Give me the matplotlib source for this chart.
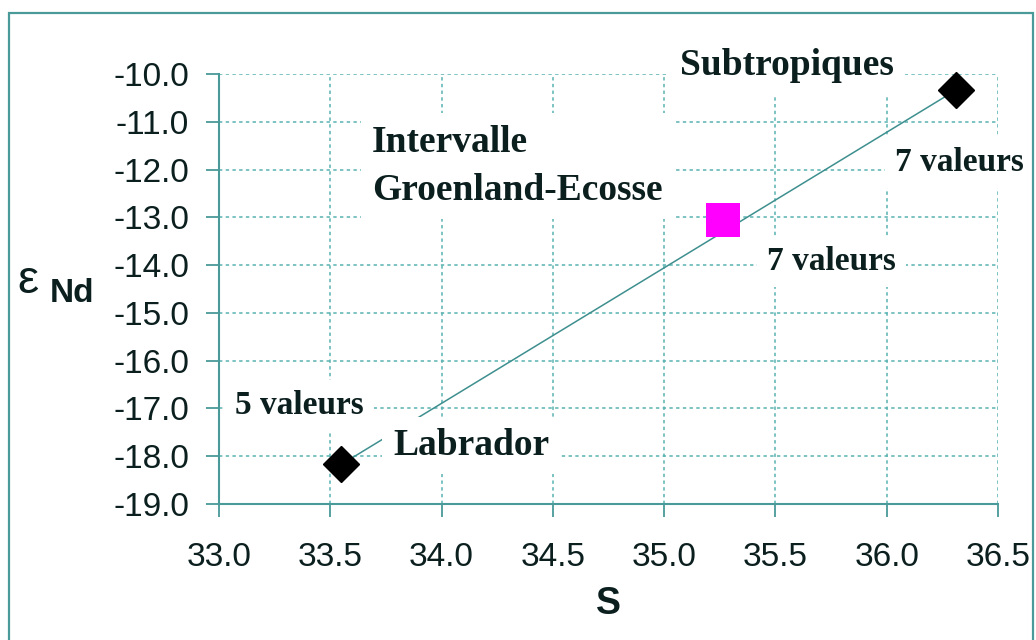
import matplotlib
matplotlib.use("Agg")
import matplotlib.pyplot as plt
from matplotlib.patches import Rectangle

# Salinity / epsilon-Nd end members and intermediate water mass
salinity = [33.55, 36.31]
eps_nd = [-18.17, -10.34]
mid_salinity = [35.265]
mid_eps_nd = [-13.06]

x_ticks = [33.0, 33.5, 34.0, 34.5, 35.0, 35.5, 36.0, 36.5]
y_ticks = [-10.0, -11.0, -12.0, -13.0, -14.0, -15.0, -16.0, -17.0, -18.0, -19.0]

# (text, x, y, fontsize) -- left edge / last-line baseline in data units
labels = [
    ("Subtropiques", 35.071, -10.02, 27),
    ("7 valeurs", 36.037, -12.03, 24),
    ("Intervalle\nGroenland-Ecosse", 33.687, -12.64, 27),
    ("7 valeurs", 35.462, -14.10, 24),
    ("5 valeurs", 33.072, -17.12, 24),
    ("Labrador", 33.782, -17.97, 27),
]

AXIS_COL = "#4a9a9a"
GRID_COL = "#58b2b2"
LINE_COL = "#3f8f8f"
TEXT_COL = "#0c1f1f"

fig = plt.figure(figsize=(10.36, 6.4), dpi=100)
fig.patch.set_facecolor("white")

# outer chart frame
fig.patches.append(Rectangle((9 / 1036, -0.05), (1033 - 9) / 1036, 1.05 - 13 / 640,
                             transform=fig.transFigure, fill=False,
                             edgecolor=AXIS_COL, linewidth=1.6, clip_on=False))

ax = fig.add_axes([219 / 1036, 1 - 504 / 640, (998 - 219) / 1036, (504 - 74) / 640])
ax.set_xlim(33.0, 36.5)
ax.set_ylim(-19.0, -10.0)
ax.set_xticks(x_ticks)
ax.set_yticks(y_ticks)
ax.set_xticklabels([f"{v:.1f}" for v in x_ticks])
ax.set_yticklabels([f"{v:.1f}" for v in y_ticks])

for s in ("top", "right"):
    ax.spines[s].set_visible(False)
for s in ("left", "bottom"):
    ax.spines[s].set_color(AXIS_COL)
    ax.spines[s].set_linewidth(1.5)

ax.tick_params(axis="both", direction="out", length=9.5, width=1.3, color=AXIS_COL,
               labelsize=24, labelcolor=TEXT_COL)
ax.tick_params(axis="x", pad=17.5)
ax.tick_params(axis="y", pad=12)
for lab in ax.get_xticklabels() + ax.get_yticklabels():
    lab.set_fontfamily("Liberation Sans")

ax.grid(True, color=GRID_COL, linestyle=(0, (2.2, 2.2)), linewidth=1.1, zorder=0)
ax.set_axisbelow(True)

ax.plot(salinity, eps_nd, color=LINE_COL, linewidth=1.1, zorder=2)
ax.plot(salinity, eps_nd, linestyle="none", marker="D", markersize=18.5,
        color="black", zorder=5, clip_on=False)
ax.plot(mid_salinity, mid_eps_nd, linestyle="none", marker="s", markersize=25,
        color="#ff00ff", markeredgewidth=0, zorder=5)

for text, x, y, size in labels:
    ax.text(x, y, text, fontsize=size, fontweight="bold", family="Liberation Serif",
            color=TEXT_COL, ha="left", va="baseline", linespacing=1.5, zorder=4,
            clip_on=False,
            bbox=dict(boxstyle="square,pad=0.3", facecolor="white", edgecolor="none"))

ax.set_xlabel("S", fontsize=27, fontweight="bold", family="Liberation Sans",
              color=TEXT_COL, labelpad=10)

fig.text(17 / 1036, 1 - 293 / 640, "\u03b5", fontsize=34, family="Liberation Sans",
         color=TEXT_COL, ha="left", va="baseline")
fig.text(50 / 1036, 1 - 302 / 640, "Nd", fontsize=24, fontweight="bold",
         family="Liberation Sans", color=TEXT_COL, ha="left", va="baseline")

fig.savefig("out.png", dpi=100, facecolor="white")
